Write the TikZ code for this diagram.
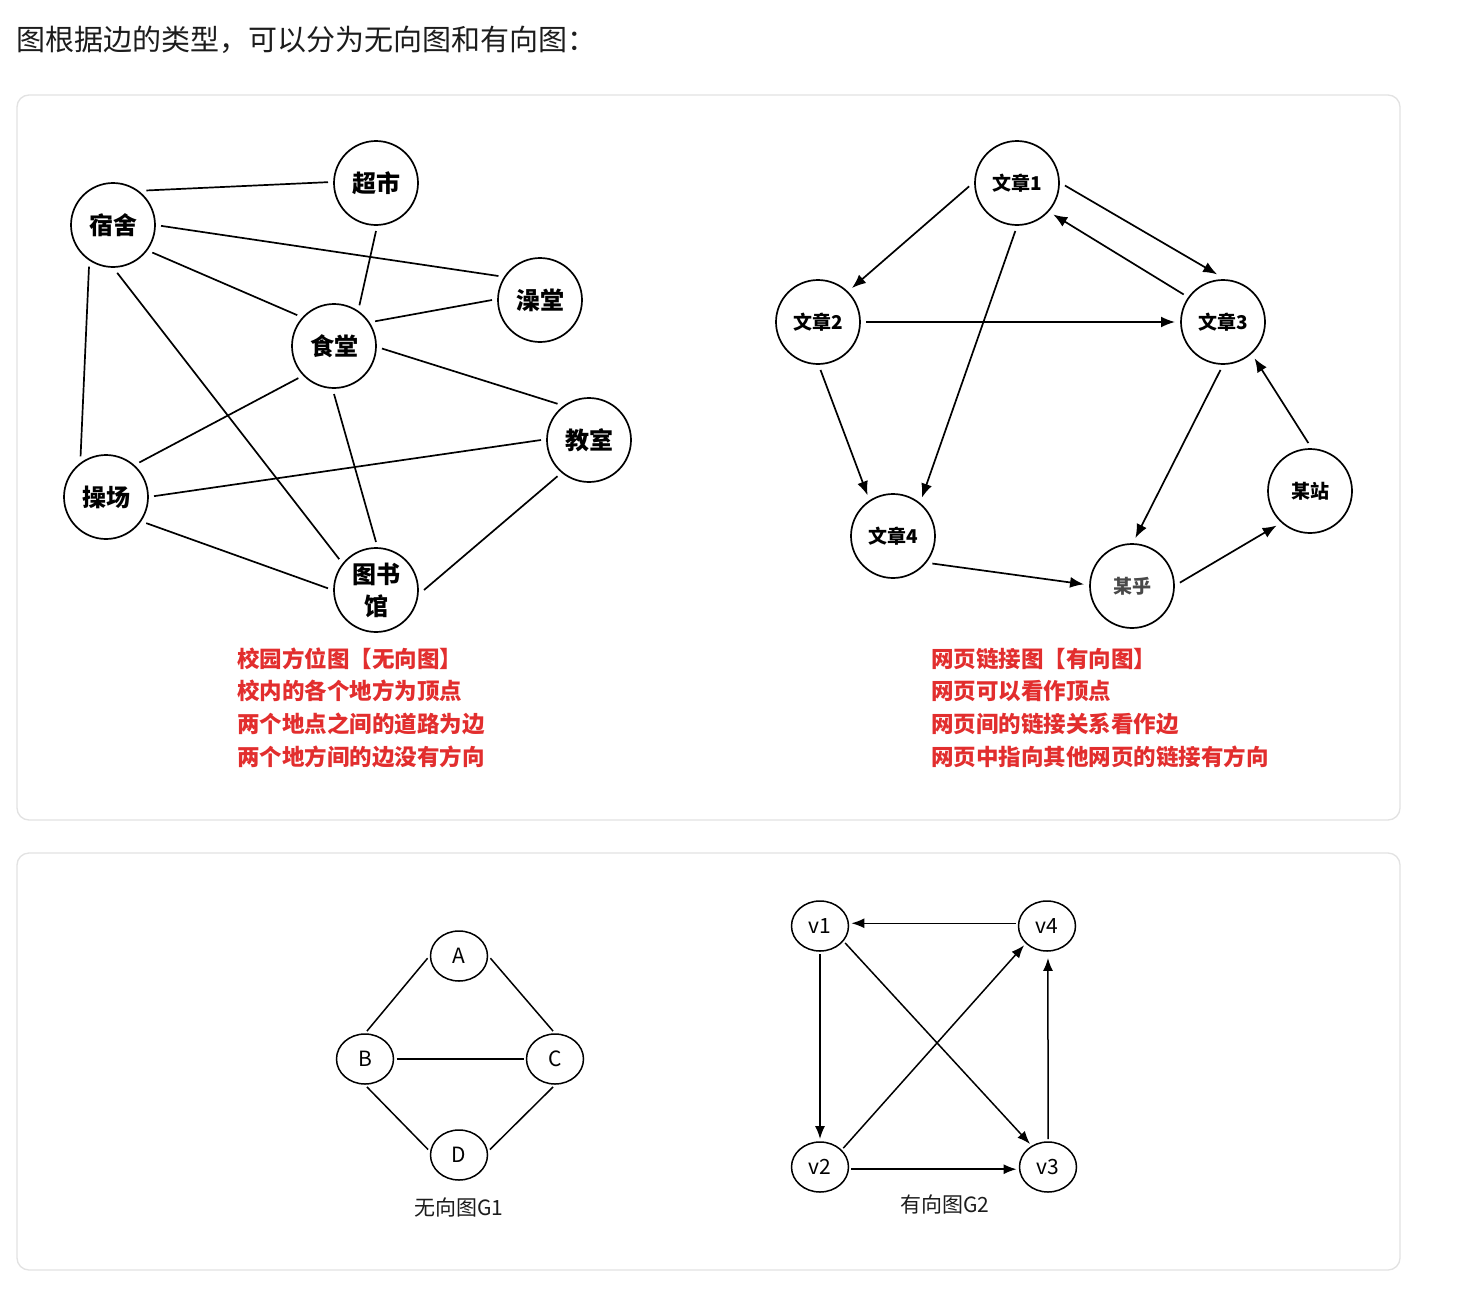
\documentclass[tikz,border=0pt]{standalone}
\usepackage{fontspec}
\setmainfont{Noto Sans CJK SC}
\definecolor{noteRed}{RGB}{226,46,46}
\definecolor{panelGray}{RGB}{226,226,226}
\definecolor{inkBlack}{RGB}{28,28,28}
\usetikzlibrary{arrows.meta,shapes.geometric}

\begin{document}
\begin{tikzpicture}[x=1pt,y=-1pt,
      place/.style={draw, circle, line width=1.7pt, minimum size=84pt,
                    inner sep=0pt, outer sep=6pt, align=center,
                    font=\fontsize{24}{32}\selectfont\bfseries},
      page/.style={draw, circle, line width=1.7pt, minimum size=84pt,
                   inner sep=0pt, outer sep=6pt,
                   font=\fontsize{19}{22}\selectfont\bfseries},
      vtx/.style={draw, ellipse, line width=1.5pt, minimum width=57pt,
                  minimum height=50pt, inner sep=0pt, outer sep=3pt,
                  font=\fontsize{21}{24}\selectfont},
      road/.style={line width=1.7pt},
      link/.style={-{Latex[length=14pt,width=11pt]}, line width=1.7pt},
      edge/.style={line width=1.5pt},
      arc/.style={-{Latex[length=13pt,width=10pt]}, line width=1.5pt},
      panel/.style={draw=panelGray, line width=1.3pt, rounded corners=12pt},
      note/.style={anchor=west, inner sep=0pt, text=noteRed,
                   font=\fontsize{22.5}{26}\selectfont\bfseries},
      caption/.style={inner sep=0pt, text=inkBlack,
                      font=\fontsize{21}{24}\selectfont}
  ]
    \useasboundingbox[fill=white] (0,0) rectangle (1467,1314);

    % title and panels
    \node[anchor=west, inner sep=0pt, text=inkBlack,
          font=\fontsize{29}{34}\selectfont] (title) at (16,40)
          {图根据边的类型，可以分为无向图和有向图：};
    \draw[panel] (17,95) rectangle (1400,820);
    \draw[panel] (17,853) rectangle (1400,1270);

    % campus map (undirected)
    \node[place] (dorm)      at (113,225) {宿舍};
    \node[place] (market)    at (376,183) {超市};
    \node[place] (bath)      at (540,300) {澡堂};
    \node[place] (canteen)   at (334,346) {食堂};
    \node[place] (classroom) at (589,440) {教室};
    \node[place] (field)     at (106,497) {操场};
    \node[place] (library)   at (376,590) {图书\\馆};
    \draw[road] (dorm.46) -- (market.179);
    \draw[road] (dorm.-1) -- (bath.150);
    \draw[road] (dorm.-35) -- (canteen.140);
    \draw[road] (dorm.-120) -- (field.122);
    \draw[road] (dorm.-85) -- (library.140);
    \draw[road] (market.-90) -- (canteen.58);
    \draw[road] (canteen.31) -- (bath.180);
    \draw[road] (canteen.-3) -- (classroom.131);
    \draw[road] (canteen.222) -- (field.46);
    \draw[road] (canteen.-90) -- (library.90);
    \draw[road] (field.1) -- (classroom.180);
    \draw[road] (field.-33) -- (library.178);
    \draw[road] (classroom.229) -- (library.0);

    \node[note] (campus1) at (237,659) {校园方位图【无向图】};
    \node[note] (campus2) at (237,691) {校内的各个地方为顶点};
    \node[note] (campus3) at (237,724) {两个地点之间的道路为边};
    \node[note] (campus4) at (237,757) {两个地方间的边没有方向};

    % web links (directed)
    \node[page] (art1) at (1017,183) {文章1};
    \node[page] (art2) at (818,322)  {文章2};
    \node[page] (art3) at (1223,322) {文章3};
    \node[page] (art4) at (893,536)  {文章4};
    \node[page, text=inkBlack!80] (zhi) at (1132,586) {某乎};
    \node[page] (zhan) at (1310,491) {某站};
    \draw[link] (art1.184) -- (art2.45);
    \draw[link] (art1.-3) -- (art3.97);
    \draw[link] (art3.145) -- (art1.-41);
    \draw[link] (art1.-92) -- (art4.53);
    \draw[link] (art2.0) -- (art3.180);
    \draw[link] (art2.-87) -- (art4.122);
    \draw[link] (art3.-93) -- (zhi.86);
    \draw[link] (art4.-35) -- (zhi.178);
    \draw[link] (zhi.4) -- (zhan.226);
    \draw[link] (zhan.92) -- (art3.-49);

    \node[note] (web1) at (931,659) {网页链接图【有向图】};
    \node[note] (web2) at (931,691) {网页可以看作顶点};
    \node[note] (web3) at (931,724) {网页间的链接关系看作边};
    \node[note] (web4) at (931,757) {网页中指向其他网页的链接有方向};

    % G1
    \node[vtx] (A) at (459,956)  {A};
    \node[vtx] (B) at (365,1059) {B};
    \node[vtx] (C) at (555,1059) {C};
    \node[vtx] (D) at (459,1155) {D};
    \draw[edge] (A.184) -- (B.86);
    \draw[edge] (A.-4) -- (C.94);
    \draw[edge] (B.0) -- (C.180);
    \draw[edge] (B.-86) -- (D.170);
    \draw[edge] (C.-94) -- (D.10);
    \node[caption] (g1) at (459,1207) {无向图G1};

    % G2
    \node[vtx] (v1) at (820,926)  {v1};
    \node[vtx] (v4) at (1047,926) {v4};
    \node[vtx] (v2) at (820,1167) {v2};
    \node[vtx] (v3) at (1048,1167) {v3};
    \draw[arc] (v4.175) -- (v1.5);
    \draw[arc] (v1.-90) -- (v2.90);
    \draw[arc] (v1.-34) -- (v3.128);
    \draw[arc] (v2.39) -- (v4.220);
    \draw[arc] (v2.-4) -- (v3.184);
    \draw[arc, shorten >=4pt] (v3.90) -- (v4.-88);
    \node[caption] (g2) at (945,1204) {有向图G2};
  \end{tikzpicture}
\end{document}
